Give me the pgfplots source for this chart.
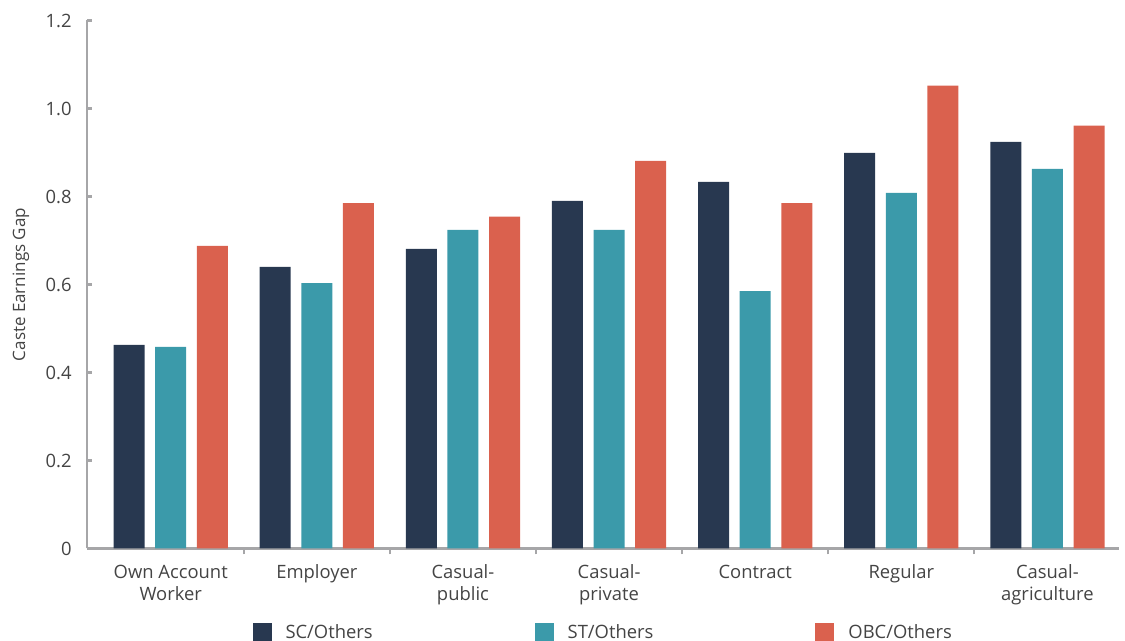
\documentclass[border=0pt]{standalone}
\usepackage{fontspec}
\setmainfont{Open Sans}
\usepackage{pgfplots}
\pgfplotsset{compat=1.18}

\definecolor{scc}{HTML}{283850}
\definecolor{stc}{HTML}{3B9AAA}
\definecolor{obcc}{HTML}{DA614E}
\definecolor{axisgray}{HTML}{A6A6A8}
\definecolor{txt}{HTML}{444444}

\begin{document}
\begin{tikzpicture}
\begin{axis}[
    scale only axis,
    width=516pt, height=264pt,
    xmin=-0.573, xmax=6.49,
    ymin=0, ymax=1.2,
    axis lines*=left,
    axis line style={draw=axisgray, line width=1.1pt},
    every tick/.style={draw=axisgray, line width=1.1pt},
    xtick={0,...,6},
    xticklabels={Own Account\\Worker, Employer, Casual-\\public, Casual-\\private, Contract, Regular, Casual-\\agriculture},
    major x tick style={draw=none},
    minor xtick={0.5,1.5,...,6.5},
    minor tick length=3pt,
    ytick={0,0.2,...,1.2},
    yticklabels={0,0.2,0.4,0.6,0.8,1.0,1.2},
    major tick length=2.5pt,
    tick align=inside,
    xtick align=inside,
    tick label style={font=\fontsize{9.2}{11}\selectfont, text=txt},
    xticklabel style={align=center, inner sep=0pt, yshift=-5.5pt},
    yticklabel style={inner sep=0pt, xshift=-7.5pt},
    ylabel={Caste Earnings Gap},
    ylabel style={at={(axis description cs:-0.064,0.5)}, anchor=center, font=\fontsize{8.5}{10}\selectfont, text=txt},
    ybar, bar width=0.2123,
    legend columns=3,
    legend style={at={(axis description cs:0.16,-0.1355)}, anchor=north west, draw=none, inner sep=0pt,
        font=\fontsize{9.2}{11}\selectfont, text=txt,
        /tikz/every odd column/.append style={column sep=5pt},
        /tikz/every even column/.append style={column sep=79pt}},
    legend image code/.code={\fill[#1, draw=none] (0pt,-4.75pt) rectangle (9.5pt,4.75pt);},
]

\addplot[fill=scc, draw=none, bar shift=-0.285] coordinates {
    (0,0.463) (1,0.640) (2,0.681) (3,0.790) (4,0.833) (5,0.899) (6,0.924)
};
\addlegendentry{SC/Others}

\addplot[fill=stc, draw=none, bar shift=0] coordinates {
    (0,0.458) (1,0.603) (2,0.724) (3,0.724) (4,0.585) (5,0.808) (6,0.863)
};
\addlegendentry{ST/Others}

\addplot[fill=obcc, draw=none, bar shift=0.285] coordinates {
    (0,0.688) (1,0.785) (2,0.754) (3,0.881) (4,0.785) (5,1.052) (6,0.961)
};
\addlegendentry{OBC/Others}

\end{axis}
\pgfresetboundingbox
\path[use as bounding box] (-43.5pt,-46.25pt) rectangle (519pt,274.25pt);
\end{tikzpicture}
\end{document}
